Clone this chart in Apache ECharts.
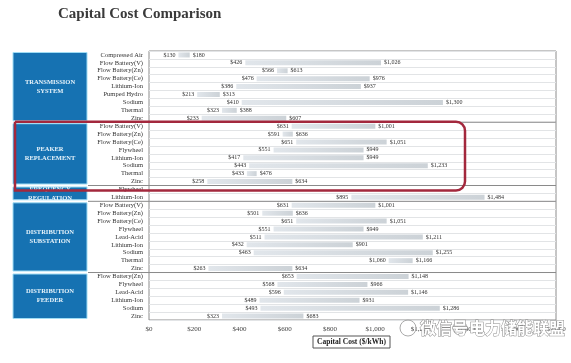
<!DOCTYPE html>
<html>
<head>
<meta charset="utf-8">
<script src="https://cdn.jsdelivr.net/npm/echarts@6/dist/echarts.min.js"></script>
<style>html,body{margin:0;padding:0;background:#fff;}#c{width:571px;height:363px;}</style>
</head>
<body>
<div id="c"></div>
<script>
const categories = [
  'Compressed Air','Flow Battery(V)','Flow Battery(Zn)','Flow Battery(Ce)','Lithium-Ion','Pumped Hydro','Sodium','Thermal','Zinc',
  'Flow Battery(V)','Flow Battery(Zn)','Flow Battery(Ce)','Flywheel','Lithium-Ion','Sodium','Thermal','Zinc',
  'Flywheel','Lithium-Ion',
  'Flow Battery(V)','Flow Battery(Zn)','Flow Battery(Ce)','Flywheel','Lead-Acid','Lithium-Ion','Sodium','Thermal','Zinc',
  'Flow Battery(Zn)','Flywheel','Lead-Acid','Lithium-Ion','Sodium','Zinc'
];
const lowCost = [
  130,426,566,476,386,213,410,323,233,
  631,591,651,551,417,443,433,258,
  null,895,
  631,501,651,551,511,432,463,1060,263,
  653,568,596,489,493,323
];
const highCost = [
  180,1026,613,976,937,313,1300,388,607,
  1001,636,1051,949,949,1233,476,634,
  null,1484,
  1001,636,1051,949,1211,901,1255,1166,634,
  1148,966,1146,931,1286,683
];
const groupNames = ['TRANSMISSION\nSYSTEM','PEAKER\nREPLACEMENT','FREQUENCY\nREGULATION','DISTRIBUTION\nSUBSTATION','DISTRIBUTION\nFEEDER'];
const groupSizes = [9, 8, 2, 9, 6];
const xMin = 0, xMax = 1800, xStep = 200;

const serif = '"Liberation Serif", "DejaVu Serif", serif';
function money(v){ return '$' + Number(v).toLocaleString('en-US'); }

const rangeData = lowCost.map((l, i) => (l == null || highCost[i] == null) ? null : highCost[i] - l);

const chart = echarts.init(document.getElementById('c'), null, {renderer: 'canvas'});
chart.setOption({
  animation: false,
  backgroundColor: '#fff',
  title: {
    text: 'Capital Cost Comparison', left: 53, top: 2,
    textStyle: {fontFamily: serif, fontWeight: 'bold', fontSize: 15, color: '#3a3a3a'}
  },
  grid: {left: 149, right: 15, top: 51, bottom: 43, show: true, borderColor: '#8c8c8c', borderWidth: 1, backgroundColor: 'transparent'},
  xAxis: {
    type: 'value', min: xMin, max: xMax, interval: xStep,
    axisLine: {show: false}, axisTick: {show: false}, splitLine: {show: false},
    axisLabel: {formatter: v => money(v), fontFamily: serif, fontSize: 7, color: '#444', margin: 6}
  },
  yAxis: {
    type: 'category', data: categories, inverse: true,
    axisLine: {show: false}, axisTick: {show: false},
    axisLabel: {interval: 0, fontFamily: serif, fontSize: 6.5, color: '#333', margin: 6},
    splitLine: {show: true, interval: 0, lineStyle: {color: '#e2e4e6', width: 1}}
  },
  series: [
    {
      name: 'base', type: 'bar', stack: 'r', data: lowCost, barWidth: 5,
      itemStyle: {color: 'rgba(0,0,0,0)'},
      label: {show: true, position: 'insideRight', distance: 3, formatter: p => p.value == null ? '' : money(p.value),
        fontFamily: serif, fontSize: 6, color: '#333'},
      silent: true
    },
    {
      name: 'range', type: 'bar', stack: 'r', data: rangeData, barWidth: 5,
      itemStyle: {color: new echarts.graphic.LinearGradient(0, 0, 1, 0, [{offset: 0, color: '#e1e6eb'}, {offset: 1, color: '#ccd2d7'}])},
      label: {show: true, position: 'right', distance: 3, formatter: p => highCost[p.dataIndex] == null ? '' : money(highCost[p.dataIndex]),
        fontFamily: serif, fontSize: 6, color: '#333'}
    }
  ]
});

function rowY(i){ return chart.convertToPixel({yAxisIndex: 0}, i); }
const step = rowY(1) - rowY(0);
function boundary(i){ return rowY(0) + (i - 0.5) * step; }
const plotRight = chart.convertToPixel({xAxisIndex: 0}, xMax);

const graphics = [];
let start = 0;
groupSizes.forEach((n, g) => {
  const y0 = boundary(start), y1 = boundary(start + n);
  graphics.push({type: 'rect', shape: {x: 13, y: y0 + 1.5, width: 74, height: y1 - y0 - 3},
    style: {fill: '#1672b2', stroke: '#9fdcf4', lineWidth: 1}, z: 10});
  graphics.push({type: 'text', x: 50, y: (y0 + y1) / 2, z: 11,
    style: {text: groupNames[g], fill: '#e8f4fb', font: 'bold 6.5px ' + serif, align: 'center', verticalAlign: 'middle', lineHeight: 9}});
  if (g > 0) {
    graphics.push({type: 'line', shape: {x1: 88, y1: y0, x2: plotRight, y2: y0}, style: {stroke: '#8a8a8a', lineWidth: 1}, z: 9});
  }
  start += n;
});

// red annotation box around peaker replacement group
const pk0 = boundary(groupSizes[0]), pk1 = boundary(groupSizes[0] + groupSizes[1]);
graphics.push({type: 'rect', shape: {x: 15, y: pk0 - 0.5, width: 450, height: pk1 - pk0 + 5.5, r: [0, 9, 9, 0]},
  style: {fill: 'none', stroke: '#a3283d', lineWidth: 2.5}, z: 20});

// axis title box
graphics.push({type: 'rect', shape: {x: 313, y: 336, width: 77, height: 12}, style: {fill: '#fff', stroke: '#555', lineWidth: 1}, z: 12});
graphics.push({type: 'text', x: 351.5, y: 342.5, z: 13,
  style: {text: 'Capital Cost ($/kWh)', fill: '#222', font: 'bold 7.5px ' + serif, align: 'center', verticalAlign: 'middle'}});

// watermark
graphics.push({type: 'circle', shape: {cx: 408, cy: 328, r: 8}, style: {fill: 'none', stroke: '#aaa', lineWidth: 1}, z: 30});
graphics.push({type: 'text', x: 420, y: 328, z: 31,
  style: {text: '微信号', fill: '#fff', stroke: '#8c8c8c', lineWidth: 1, font: 'bold 16px "Noto Sans CJK SC"', align: 'left', verticalAlign: 'middle'}});
graphics.push({type: 'circle', shape: {cx: 460, cy: 328, r: 7}, style: {fill: 'none', stroke: '#aaa', lineWidth: 1}, z: 30});
graphics.push({type: 'text', x: 469, y: 328, z: 31,
  style: {text: '电力储能联盟', fill: '#fff', stroke: '#8c8c8c', lineWidth: 1, font: 'bold 16px "Noto Sans CJK SC"', align: 'left', verticalAlign: 'middle'}});

chart.setOption({graphic: graphics});
</script>
</body>
</html>
